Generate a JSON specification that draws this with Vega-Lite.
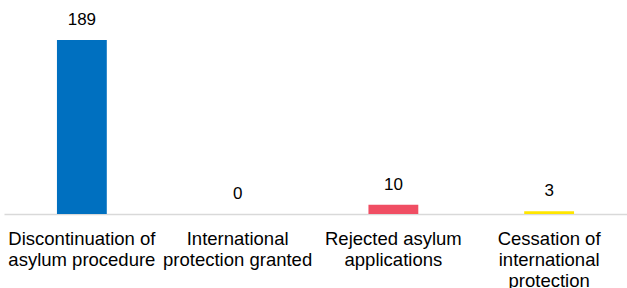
{
  "$schema": "https://vega.github.io/schema/vega-lite/v6.json",
  "width": 623,
  "height": 214,
  "padding": {"left": 4, "top": 0, "right": 0, "bottom": 0},
  "config": {"view": {"stroke": null}, "font": "Liberation Sans"},
  "data": {"values": [
    {"category": "Discontinuation of|asylum procedure", "value": 189, "col": "a"},
    {"category": "International|protection granted", "value": 0, "col": "b"},
    {"category": "Rejected asylum|applications", "value": 10, "col": "c"},
    {"category": "Cessation of|international|protection", "value": 3, "col": "d"}
  ]},
  "encoding": {
    "x": {"field": "category", "type": "nominal", "sort": null,
      "scale": {"paddingInner": 0.68, "paddingOuter": 0.34},
      "axis": {"title": null, "labelAngle": 0, "ticks": false, "domainColor": "#d9d9d9", "domainWidth": 1.5,
        "labelExpr": "split(datum.label, '|')", "labelFontSize": 18.5, "labelColor": "#000000",
        "labelLineHeight": 21, "labelPadding": 15, "labelLimit": 400, "labelFont": "Liberation Sans"}},
    "y": {"field": "value", "type": "quantitative", "scale": {"domain": [0, 232.4], "nice": false}, "axis": null}
  },
  "layer": [
    {"mark": {"type": "bar"},
     "encoding": {"color": {"field": "col", "type": "nominal", "legend": null,
       "scale": {"domain": ["a","b","c","d"], "range": ["#0070C0", "#A5A5A5", "#F04E63", "#FFE600"]}}}},
    {"mark": {"type": "text", "baseline": "bottom", "dy": -11, "fontSize": 17, "color": "#000000", "font": "Liberation Sans"},
     "encoding": {"text": {"field": "value", "type": "quantitative"}}}
  ]
}
